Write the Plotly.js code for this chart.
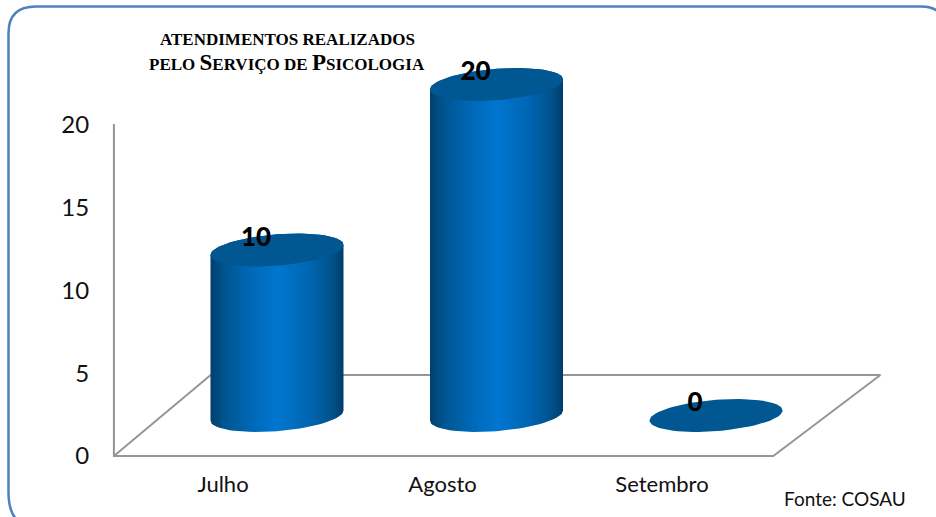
<!DOCTYPE html>
<html>
<head>
<meta charset="utf-8">
<script src="https://cdn.plot.ly/plotly-3.0.1.min.js"></script>
<style>html,body{margin:0;padding:0;background:#fff;overflow:hidden}</style>
</head>
<body>
<div id="chart" style="width:936px;height:517px"></div>
<script>
const categories = ['Julho', 'Agosto', 'Setembro'];
const values = [10, 20, 0];
const yTicks = [0, 5, 10, 15, 20];
const titleLine1 = 'ATENDIMENTOS REALIZADOS';
const titleLine2 = 'PELO <span style="font-size:23px">S</span>ERVIÇO DE <span style="font-size:23px">P</span>SICOLOGIA';
const sourceNote = 'Fonte: COSAU';

const W = 936, H = 517;
// axis scales: one category = 219.5px, one unit = 16.55px
const pxX = 219.5, pxY = 16.55;
const xRange = [-223 / pxX, (W - 223) / pxX];
const yRange = [(455 - H) / pxY, 455 / pxY];

// oblique projection of the 3D chart, in axis units
const depthX = 54 / pxX, depthY = 39.5 / pxY;
const radX = 66.5 / pxX, radY = 15.7 / pxY, tilt = 5 / pxY;

const steps = [];
for (let i = 0; i <= 72; i++) steps.push(i * 2 * Math.PI / 72);

function ellipse(cx, cy, ts) {
  return {
    x: ts.map(t => cx + radX * Math.cos(t)),
    y: ts.map(t => cy + radY * Math.sin(t) + tilt * Math.cos(t))
  };
}

const traces = [];
// walls and floor outline
traces.push({
  x: [-0.497, -0.497, 2.507, 2.995, -0.056, -0.497],
  y: [20, -0.06, -0.06, 4.83, 4.83, -0.06],
  mode: 'lines', line: {color: '#969696', width: 2}, hoverinfo: 'skip', showlegend: false
});

const bodyScale = [[0, '#003f6f'], [0.1, '#00548f'], [0.28, '#0066b2'], [0.5, '#0076d0'],
                   [0.74, '#0066b2'], [0.91, '#00528c'], [1, '#003d6b']];

values.forEach((v, i) => {
  const cx = i + depthX, topY = v + depthY, baseY = depthY;
  const back = steps.slice(0, 37);           // over the top, right to left
  const front = steps.slice(36);             // under the base, left to right
  const t = ellipse(cx, topY, back), b = ellipse(cx, baseY, front);
  if (v > 0) {
    traces.push({
      x: t.x.concat(b.x), y: t.y.concat(b.y),
      mode: 'lines', line: {width: 0}, fill: 'toself',
      fillgradient: {type: 'horizontal', colorscale: bodyScale},
      hoverinfo: 'skip', showlegend: false
    });
  }
  const top = ellipse(cx, topY, steps);
  traces.push({
    x: top.x, y: top.y, mode: 'lines', line: {width: 0},
    fill: 'toself', fillcolor: '#005792', hoverinfo: 'skip', showlegend: false
  });
});

// value labels
traces.push({
  x: values.map((v, i) => i + depthX - 21 / pxX),
  y: values.map(v => v + depthY + 11 / pxY),
  text: values.map(String),
  mode: 'text', textposition: 'middle center',
  textfont: {family: 'Lato, sans-serif', size: 26, color: '#000', weight: 900},
  hoverinfo: 'skip', showlegend: false
});

const card = 'M 8.5 33 Q 8.5 6.5 36 6.5 L 921 6.5 Q 945 6.5 945 30 L 945 495 Q 945 527 921 527 L 36 527 Q 8.5 527 8.5 492 Z';
const toPaper = card.replace(/(-?[\d.]+) (-?[\d.]+)/g, (m, a, b) => (a / W) + ' ' + (1 - b / H));

const layout = {
  width: W, height: H,
  margin: {l: 0, r: 0, t: 0, b: 0},
  paper_bgcolor: '#fff', plot_bgcolor: 'rgba(0,0,0,0)',
  showlegend: false,
  xaxis: {
    range: xRange, tickmode: 'array', tickvals: categories.map((c, i) => i), ticktext: categories,
    showgrid: false, zeroline: false, showline: false, ticks: '',
    anchor: 'free', position: 0.093, side: 'bottom',
    tickfont: {family: 'Lato, sans-serif', size: 22, color: '#111'}
  },
  yaxis: {
    range: yRange, tickmode: 'array', tickvals: yTicks, ticktext: yTicks.map(String),
    showgrid: false, zeroline: false, showline: false,
    anchor: 'free', position: 114 / W, side: 'left', ticks: 'outside', ticklen: 20, tickcolor: 'rgba(0,0,0,0)',
    ticklabelshift: 1,
    tickfont: {family: 'Lato, sans-serif', size: 24, color: '#111'}
  },
  shapes: [{type: 'path', xref: 'paper', yref: 'paper', path: toPaper, line: {color: '#4f81bd', width: 2.5}, fillcolor: 'rgba(0,0,0,0)', layer: 'below'}],
  annotations: [
    {xref: 'paper', yref: 'paper', x: 287 / W, y: 1 - 39 / H, text: '<b>' + titleLine1 + '</b>', showarrow: false, xanchor: 'center', yanchor: 'middle',
     font: {family: '"Liberation Serif", serif', size: 17, color: '#000'}},
    {xref: 'paper', yref: 'paper', x: 286.5 / W, y: 1 - 62 / H, text: '<b>' + titleLine2 + '</b>', showarrow: false, xanchor: 'center', yanchor: 'middle',
     font: {family: '"Liberation Serif", serif', size: 17, color: '#000'}},
    {xref: 'paper', yref: 'paper', x: 844.5 / W, y: 1 - 498 / H, text: sourceNote, showarrow: false, xanchor: 'center', yanchor: 'middle',
     font: {family: 'Lato, sans-serif', size: 19, color: '#111'}}
  ]
};

Plotly.newPlot('chart', traces, layout, {displayModeBar: false, staticPlot: true});
</script>
</body>
</html>
